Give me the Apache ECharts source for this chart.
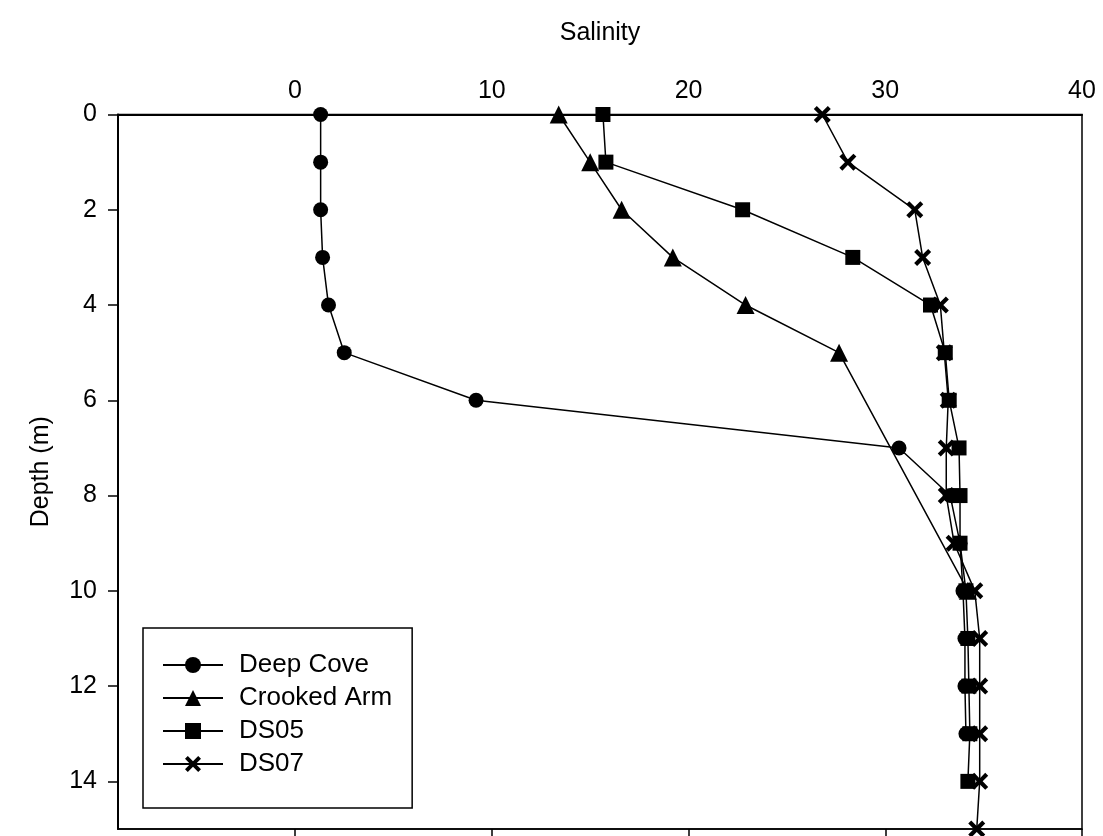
<!DOCTYPE html>
<html>
<head>
<meta charset="utf-8">
<script src="https://cdn.jsdelivr.net/npm/echarts@6/dist/echarts.min.js"></script>
<style>
  html, body { margin: 0; padding: 0; background: #fff; }
  #chart { width: 1103px; height: 836px; }
</style>
</head>
<body>
<div id="chart"></div>
<script>
var dom = document.getElementById("chart");
var myChart = echarts.init(dom, null, { renderer: "canvas" });

// depth (m) for each station
var deepCoveDepth = [0, 1, 2, 3, 4, 5, 6, 7, 8, 9, 10, 11, 12, 13];
var deepCoveSal = [1.3, 1.3, 1.3, 1.4, 1.7, 2.5, 9.2, 30.7, 33.3, 33.8, 33.95, 34.05, 34.05, 34.1];

var crookedDepth = [0, 1, 2, 3, 4, 5, 10];
var crookedSal = [13.4, 15.0, 16.6, 19.2, 22.9, 27.65, 34.2];

var ds05Depth = [0, 1, 2, 3, 4, 5, 6, 7, 8, 9, 10, 11, 12, 13, 14];
var ds05Sal = [15.65, 15.8, 22.75, 28.35, 32.3, 33.05, 33.25, 33.75, 33.8, 33.8, 34.1, 34.2, 34.25, 34.3, 34.2];

var ds07Depth = [0, 1, 2, 3, 4, 5, 6, 7, 8, 9, 10, 11, 12, 13, 14, 15];
var ds07Sal = [26.8, 28.1, 31.5, 31.9, 32.8, 33.0, 33.2, 33.1, 33.1, 33.5, 34.55, 34.8, 34.8, 34.8, 34.8, 34.65];

var xTicks = [0, 10, 20, 30, 40];
var yTicks = [0, 2, 4, 6, 8, 10, 12, 14];

var font = "Liberation Sans, Arial, sans-serif";
var crossPath = "path://M0,3.5 L3.5,0 L10,6.5 L16.5,0 L20,3.5 L13.5,10 L20,16.5 L16.5,20 L10,13.5 L3.5,20 L0,16.5 L6.5,10 Z";

function pairs(sal, depth) {
  return sal.map(function (s, i) { return [s, depth[i]]; });
}

function makeSeries(name, sal, depth, symbol, size) {
  return {
    name: name,
    type: "line",
    data: pairs(sal, depth),
    symbol: symbol,
    symbolSize: size,
    showAllSymbol: true,
    lineStyle: { color: "#000", width: 1.5 },
    itemStyle: { color: "#000", borderWidth: 0 },
    emphasis: { disabled: true },
    animation: false
  };
}

var option = {
  animation: false,
  grid: {
    left: 118, right: 21, top: 114.5, bottom: 7,
    show: true, borderColor: "#000", borderWidth: 1.5
  },
  legend: {
    orient: "vertical",
    left: 143, top: 628,
    padding: [24, 20, 31, 19],
    borderColor: "#000", borderWidth: 1.5,
    itemWidth: 60, itemHeight: 20, itemGap: 7,
    textStyle: { fontFamily: font, fontSize: 26, color: "#000", lineHeight: 26, padding: [0, 0, 0, 11] },
    data: ["Deep Cove", "Crooked Arm", "DS05", "DS07"]
  },
  xAxis: [
    {
      type: "value", position: "top", min: -9, max: 40,
      name: "Salinity", nameLocation: "middle", nameGap: 69,
      nameTextStyle: { fontFamily: font, fontSize: 25, color: "#000" },
      axisLine: { show: true, onZero: false, lineStyle: { color: "#000", width: 2 } },
      axisTick: { show: false },
      axisLabel: { customValues: xTicks, margin: 11, fontFamily: font, fontSize: 25, color: "#000" },
      splitLine: { show: false }
    },
    {
      type: "value", position: "bottom", min: -9, max: 40,
      axisLine: { show: true, onZero: false, lineStyle: { color: "#000", width: 1.5 } },
      axisTick: { show: true, customValues: xTicks, inside: false, length: 7, lineStyle: { color: "#000", width: 1.5 } },
      axisLabel: { show: false },
      splitLine: { show: false }
    }
  ],
  yAxis: {
    type: "value", inverse: true, min: 0, max: 15,
    name: "Depth (m)", nameLocation: "middle", nameGap: 64,
    nameTextStyle: { fontFamily: font, fontSize: 25, color: "#000" },
    axisLine: { show: true, onZero: false, lineStyle: { color: "#000", width: 2 } },
    axisTick: { show: true, customValues: yTicks, inside: false, length: 10, lineStyle: { color: "#000", width: 1.5 } },
    axisLabel: { customValues: yTicks, margin: 21, fontFamily: font, fontSize: 25, color: "#000" },
    splitLine: { show: false }
  },
  series: [
    makeSeries("Deep Cove", deepCoveSal, deepCoveDepth, "circle", 15),
    makeSeries("Crooked Arm", crookedSal, crookedDepth, "triangle", 18),
    makeSeries("DS05", ds05Sal, ds05Depth, "rect", 15),
    makeSeries("DS07", ds07Sal, ds07Depth, crossPath, 17)
  ]
};

myChart.setOption(option);
window.addEventListener("resize", myChart.resize);
</script>
</body>
</html>
